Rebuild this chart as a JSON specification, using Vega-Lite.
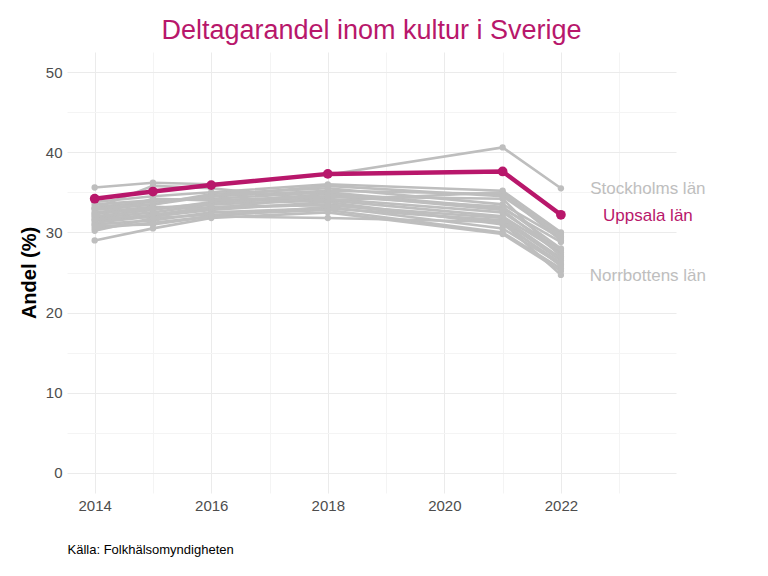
{
  "$schema": "https://vega.github.io/schema/vega-lite/v6.json",
  "width": 609,
  "height": 441,
  "autosize": "none",
  "padding": {"left": 67, "top": 52, "right": 92, "bottom": 83},
  "background": "white",
  "title": {
    "text": "Deltagarandel inom kultur i Sverige",
    "color": "#B8176B",
    "font": "Liberation Sans",
    "fontSize": 27,
    "fontWeight": "normal",
    "anchor": "middle",
    "baseline": "alphabetic",
    "offset": 14,
    "dy": 28
  },
  "config": {
    "view": {"stroke": null},
    "font": "Liberation Sans"
  },
  "data": {
    "values": [
      {"lan": "Stockholms län", "year": 2014, "value": 35.6},
      {"lan": "Stockholms län", "year": 2015, "value": 36.2},
      {"lan": "Stockholms län", "year": 2016, "value": 36.0},
      {"lan": "Stockholms län", "year": 2018, "value": 37.2},
      {"lan": "Stockholms län", "year": 2021, "value": 40.6},
      {"lan": "Stockholms län", "year": 2022, "value": 35.5},
      {"lan": "Uppsala län", "year": 2014, "value": 34.2},
      {"lan": "Uppsala län", "year": 2015, "value": 35.1},
      {"lan": "Uppsala län", "year": 2016, "value": 35.9},
      {"lan": "Uppsala län", "year": 2018, "value": 37.3},
      {"lan": "Uppsala län", "year": 2021, "value": 37.6},
      {"lan": "Uppsala län", "year": 2022, "value": 32.2},
      {"lan": "Norrbottens län", "year": 2014, "value": 31.5},
      {"lan": "Norrbottens län", "year": 2015, "value": 32.0},
      {"lan": "Norrbottens län", "year": 2016, "value": 33.0},
      {"lan": "Norrbottens län", "year": 2018, "value": 33.5},
      {"lan": "Norrbottens län", "year": 2021, "value": 31.2},
      {"lan": "Norrbottens län", "year": 2022, "value": 24.7},
      {"lan": "Västra Götalands län", "year": 2014, "value": 33.8},
      {"lan": "Västra Götalands län", "year": 2015, "value": 34.5},
      {"lan": "Västra Götalands län", "year": 2016, "value": 35.0},
      {"lan": "Västra Götalands län", "year": 2018, "value": 36.0},
      {"lan": "Västra Götalands län", "year": 2021, "value": 35.2},
      {"lan": "Västra Götalands län", "year": 2022, "value": 30.0},
      {"lan": "Skåne län", "year": 2014, "value": 33.2},
      {"lan": "Skåne län", "year": 2015, "value": 33.8},
      {"lan": "Skåne län", "year": 2016, "value": 34.5},
      {"lan": "Skåne län", "year": 2018, "value": 35.2},
      {"lan": "Skåne län", "year": 2021, "value": 34.8},
      {"lan": "Skåne län", "year": 2022, "value": 29.8},
      {"lan": "Hallands län", "year": 2014, "value": 32.8},
      {"lan": "Hallands län", "year": 2015, "value": 33.5},
      {"lan": "Hallands län", "year": 2016, "value": 34.8},
      {"lan": "Hallands län", "year": 2018, "value": 35.5},
      {"lan": "Hallands län", "year": 2021, "value": 33.5},
      {"lan": "Hallands län", "year": 2022, "value": 29.3},
      {"lan": "Östergötlands län", "year": 2014, "value": 33.5},
      {"lan": "Östergötlands län", "year": 2015, "value": 34.0},
      {"lan": "Östergötlands län", "year": 2016, "value": 34.2},
      {"lan": "Östergötlands län", "year": 2018, "value": 35.0},
      {"lan": "Östergötlands län", "year": 2021, "value": 33.0},
      {"lan": "Östergötlands län", "year": 2022, "value": 28.8},
      {"lan": "Södermanlands län", "year": 2014, "value": 31.8},
      {"lan": "Södermanlands län", "year": 2015, "value": 32.5},
      {"lan": "Södermanlands län", "year": 2016, "value": 33.5},
      {"lan": "Södermanlands län", "year": 2018, "value": 34.0},
      {"lan": "Södermanlands län", "year": 2021, "value": 32.0},
      {"lan": "Södermanlands län", "year": 2022, "value": 27.5},
      {"lan": "Jönköpings län", "year": 2014, "value": 32.0},
      {"lan": "Jönköpings län", "year": 2015, "value": 32.8},
      {"lan": "Jönköpings län", "year": 2016, "value": 33.8},
      {"lan": "Jönköpings län", "year": 2018, "value": 34.2},
      {"lan": "Jönköpings län", "year": 2021, "value": 32.5},
      {"lan": "Jönköpings län", "year": 2022, "value": 27.8},
      {"lan": "Kronobergs län", "year": 2014, "value": 32.5},
      {"lan": "Kronobergs län", "year": 2015, "value": 33.2},
      {"lan": "Kronobergs län", "year": 2016, "value": 33.0},
      {"lan": "Kronobergs län", "year": 2018, "value": 34.5},
      {"lan": "Kronobergs län", "year": 2021, "value": 33.2},
      {"lan": "Kronobergs län", "year": 2022, "value": 28.0},
      {"lan": "Kalmar län", "year": 2014, "value": 31.0},
      {"lan": "Kalmar län", "year": 2015, "value": 31.5},
      {"lan": "Kalmar län", "year": 2016, "value": 32.5},
      {"lan": "Kalmar län", "year": 2018, "value": 33.0},
      {"lan": "Kalmar län", "year": 2021, "value": 31.5},
      {"lan": "Kalmar län", "year": 2022, "value": 26.5},
      {"lan": "Gotlands län", "year": 2014, "value": 33.0},
      {"lan": "Gotlands län", "year": 2015, "value": 35.8},
      {"lan": "Gotlands län", "year": 2016, "value": 35.5},
      {"lan": "Gotlands län", "year": 2018, "value": 34.0},
      {"lan": "Gotlands län", "year": 2021, "value": 35.0},
      {"lan": "Gotlands län", "year": 2022, "value": 29.0},
      {"lan": "Blekinge län", "year": 2014, "value": 30.5},
      {"lan": "Blekinge län", "year": 2015, "value": 31.2},
      {"lan": "Blekinge län", "year": 2016, "value": 32.0},
      {"lan": "Blekinge län", "year": 2018, "value": 33.2},
      {"lan": "Blekinge län", "year": 2021, "value": 30.5},
      {"lan": "Blekinge län", "year": 2022, "value": 26.0},
      {"lan": "Värmlands län", "year": 2014, "value": 31.2},
      {"lan": "Värmlands län", "year": 2015, "value": 32.0},
      {"lan": "Värmlands län", "year": 2016, "value": 32.8},
      {"lan": "Värmlands län", "year": 2018, "value": 33.8},
      {"lan": "Värmlands län", "year": 2021, "value": 31.0},
      {"lan": "Värmlands län", "year": 2022, "value": 26.2},
      {"lan": "Örebro län", "year": 2014, "value": 32.3},
      {"lan": "Örebro län", "year": 2015, "value": 33.0},
      {"lan": "Örebro län", "year": 2016, "value": 33.6},
      {"lan": "Örebro län", "year": 2018, "value": 34.8},
      {"lan": "Örebro län", "year": 2021, "value": 32.8},
      {"lan": "Örebro län", "year": 2022, "value": 27.2},
      {"lan": "Västmanlands län", "year": 2014, "value": 30.2},
      {"lan": "Västmanlands län", "year": 2015, "value": 31.8},
      {"lan": "Västmanlands län", "year": 2016, "value": 32.2},
      {"lan": "Västmanlands län", "year": 2018, "value": 32.8},
      {"lan": "Västmanlands län", "year": 2021, "value": 30.0},
      {"lan": "Västmanlands län", "year": 2022, "value": 25.5},
      {"lan": "Dalarnas län", "year": 2014, "value": 31.6},
      {"lan": "Dalarnas län", "year": 2015, "value": 32.2},
      {"lan": "Dalarnas län", "year": 2016, "value": 33.2},
      {"lan": "Dalarnas län", "year": 2018, "value": 33.4},
      {"lan": "Dalarnas län", "year": 2021, "value": 31.8},
      {"lan": "Dalarnas län", "year": 2022, "value": 26.8},
      {"lan": "Gävleborgs län", "year": 2014, "value": 29.0},
      {"lan": "Gävleborgs län", "year": 2015, "value": 30.5},
      {"lan": "Gävleborgs län", "year": 2016, "value": 31.8},
      {"lan": "Gävleborgs län", "year": 2018, "value": 32.5},
      {"lan": "Gävleborgs län", "year": 2021, "value": 29.8},
      {"lan": "Gävleborgs län", "year": 2022, "value": 25.2},
      {"lan": "Västernorrlands län", "year": 2014, "value": 30.8},
      {"lan": "Västernorrlands län", "year": 2015, "value": 31.0},
      {"lan": "Västernorrlands län", "year": 2016, "value": 32.0},
      {"lan": "Västernorrlands län", "year": 2018, "value": 31.8},
      {"lan": "Västernorrlands län", "year": 2021, "value": 31.3},
      {"lan": "Västernorrlands län", "year": 2022, "value": 25.8},
      {"lan": "Jämtlands län", "year": 2014, "value": 32.2},
      {"lan": "Jämtlands län", "year": 2015, "value": 34.2},
      {"lan": "Jämtlands län", "year": 2016, "value": 34.0},
      {"lan": "Jämtlands län", "year": 2018, "value": 34.5},
      {"lan": "Jämtlands län", "year": 2021, "value": 34.2},
      {"lan": "Jämtlands län", "year": 2022, "value": 27.0},
      {"lan": "Västerbottens län", "year": 2014, "value": 33.0},
      {"lan": "Västerbottens län", "year": 2015, "value": 33.5},
      {"lan": "Västerbottens län", "year": 2016, "value": 34.5},
      {"lan": "Västerbottens län", "year": 2018, "value": 35.8},
      {"lan": "Västerbottens län", "year": 2021, "value": 34.5},
      {"lan": "Västerbottens län", "year": 2022, "value": 29.5}
    ]
  },
  "encoding": {
    "x": {
      "field": "year",
      "type": "quantitative",
      "scale": {"domain": [2013.525, 2023.975], "nice": false, "zero": false},
      "axis": {
        "values": [2014, 2015, 2016, 2017, 2018, 2019, 2020, 2021, 2022, 2023],
        "labelExpr": "datum.value % 2 == 0 ? datum.label : ''",
        "format": "d",
        "domain": false,
        "ticks": false,
        "labelFont": "Liberation Sans",
        "labelFontSize": 15,
        "labelColor": "#4D4D4D",
        "labelPadding": 5,
        "labelFlush": false,
        "gridColor": {"condition": {"test": "datum.value % 2 == 1", "value": "#F4F4F4"}, "value": "#EBEBEB"},
        "gridWidth": 1,
        "title": "Källa: Folkhälsomyndigheten",
        "titleFont": "Liberation Sans",
        "titleFontSize": 13,
        "titleFontWeight": "normal",
        "titleColor": "#000000",
        "titleAnchor": "start",
        "titleAlign": "left",
        "titleBaseline": "alphabetic",
        "titleX": 0,
        "titleY": 60
      }
    },
    "y": {
      "field": "value",
      "type": "quantitative",
      "scale": {"domain": [-2.5, 52.5], "nice": false, "zero": false},
      "axis": {
        "values": [0, 5, 10, 15, 20, 25, 30, 35, 40, 45, 50],
        "labelExpr": "datum.value % 10 == 0 ? datum.label : ''",
        "domain": false,
        "ticks": false,
        "labelFont": "Liberation Sans",
        "labelFontSize": 15,
        "labelColor": "#4D4D4D",
        "labelPadding": 5,
        "labelFlush": false,
        "gridColor": {"condition": {"test": "datum.value % 10 == 5", "value": "#F4F4F4"}, "value": "#EBEBEB"},
        "gridWidth": 1,
        "title": "Andel (%)",
        "titleFont": "Liberation Sans",
        "titleFontSize": 20,
        "titleFontWeight": "bold",
        "titleColor": "#000000",
        "titlePadding": 6
      }
    }
  },
  "layer": [
    {
      "transform": [{"filter": "datum.lan != 'Uppsala län'"}],
      "mark": {"type": "line", "color": "#BEBEBE", "strokeWidth": 2.6},
      "encoding": {"detail": {"field": "lan"}}
    },
    {
      "transform": [{"filter": "datum.lan != 'Uppsala län'"}],
      "mark": {"type": "point", "filled": true, "color": "#BEBEBE", "opacity": 1, "size": 40}
    },
    {
      "transform": [{"filter": "datum.lan == 'Uppsala län'"}],
      "mark": {"type": "line", "color": "#B8176B", "strokeWidth": 4.5}
    },
    {
      "transform": [{"filter": "datum.lan == 'Uppsala län'"}],
      "mark": {"type": "point", "filled": true, "color": "#B8176B", "opacity": 1, "size": 95}
    },
    {
      "transform": [{"filter": "datum.year == 2022 && (datum.lan == 'Stockholms län' || datum.lan == 'Norrbottens län')"}],
      "mark": {"type": "text", "color": "#BEBEBE", "font": "Liberation Sans", "fontSize": 17, "align": "center", "baseline": "middle", "dx": 87, "dy": 1},
      "encoding": {"text": {"field": "lan"}}
    },
    {
      "transform": [{"filter": "datum.year == 2022 && datum.lan == 'Uppsala län'"}],
      "mark": {"type": "text", "color": "#B8176B", "font": "Liberation Sans", "fontSize": 17, "align": "center", "baseline": "middle", "dx": 87, "dy": 1},
      "encoding": {"text": {"field": "lan"}}
    }
  ]
}
